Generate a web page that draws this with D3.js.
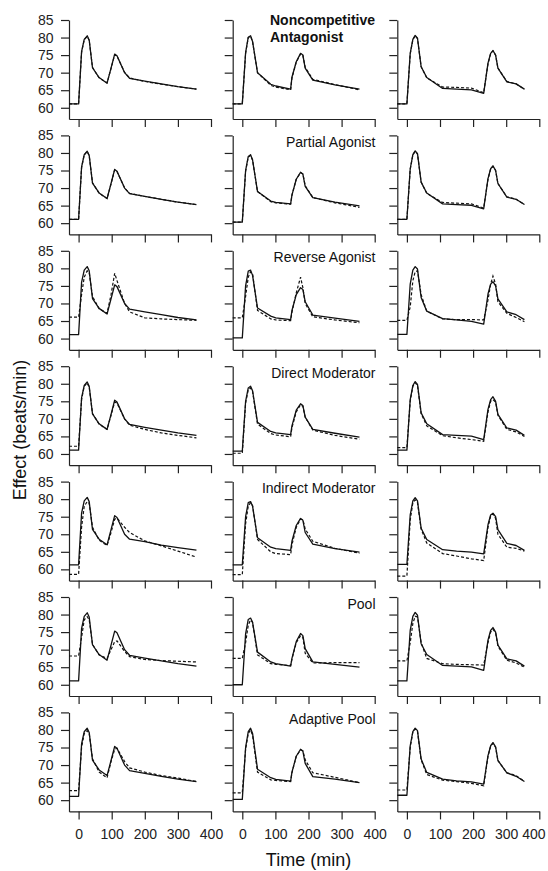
<!DOCTYPE html>
<html>
<head>
<meta charset="utf-8">
<script src="https://cdnjs.cloudflare.com/ajax/libs/d3/7.8.5/d3.min.js"></script>
<style>
  body { margin: 0; background: #fff; }
  svg { display: block; font-family: "Liberation Sans", Arial, sans-serif; }
  .axis path, .axis line { stroke: #222; stroke-width: 1.2; }
  .axis text { font-size: 14px; fill: #222; font-family: "Liberation Sans", Arial, sans-serif; }
</style>
</head>
<body>
<svg id="chart"></svg>
<script>
const width = 548;
const height = 871;

const rowLabels = ["Noncompetitive Antagonist", "Partial Agonist", "Reverse Agonist", "Direct Moderator",
  "Indirect Moderator", "Pool", "Adaptive Pool"];
const yTicks = [60, 65, 70, 75, 80, 85];
const xTicks = [0, 100, 200, 300, 400];

// time points, one list per column (second dose given later in each column)
const t1 = [-29, 0, 9, 17, 26, 32, 42, 62, 86, 98, 109, 116, 139, 154, 200, 250, 300, 356];
const t2 = [-29, 0, 10, 18, 25, 31, 46, 86, 101, 146, 150, 163, 176, 183, 190, 213, 280, 354];
const t3 = [-29, 0, 10, 18, 25, 32, 43, 60, 108, 150, 195, 232, 245, 253, 260, 268, 275, 302, 330, 355];

// observed (solid) and model (dashed) effect, one pair per panel
const r1c1_obs = [61.1, 61.1, 76, 79.5, 80.5, 79.3, 71.4, 68.6, 67, 71.3, 75.3, 74.8, 70, 68.4, 67.6, 66.8, 66, 65.3];
const r1c1_fit = [61.1, 61.1, 75.8, 79.4, 80.3, 79.2, 71.5, 68.5, 67.1, 71.2, 75.1, 74.7, 70.1, 68.5, 67.5, 66.7, 66, 65.3];
const r1c2_obs = [61.1, 61.1, 75.7, 80.1, 80.5, 78.9, 70, 66.7, 66.2, 65.3, 68.7, 73.1, 75.5, 75, 71.3, 67.9, 66.5, 65.3];
const r1c2_fit = [61.1, 61.1, 75.5, 80, 80.4, 78.8, 70, 66.4, 65.9, 65.1, 68.5, 73, 75.3, 74.9, 71.5, 68.1, 66.6, 65.1];
const r1c3_obs = [61.1, 61.1, 75.5, 79.5, 80.6, 79.8, 71.7, 68.6, 65.5, 65.3, 65.1, 64.1, 72.7, 75.5, 76.3, 75, 71.3, 67.4, 66.8, 65.3];
const r1c3_fit = [61.1, 61.1, 75.3, 79.4, 80.5, 79.7, 71.7, 68.5, 65.9, 65.8, 65.6, 64.3, 72.5, 75.4, 76.2, 75, 71.3, 67.5, 66.8, 65.3];

const r2c1_obs = [61.1, 61.1, 76, 79.5, 80.5, 79.3, 71.4, 68.6, 67, 71.3, 75.3, 74.8, 70, 68.4, 67.6, 66.8, 66, 65.3];
const r2c1_fit = [61.1, 61.1, 75.8, 79.4, 80.4, 79.2, 71.5, 68.5, 67, 71.2, 75.2, 74.7, 70, 68.5, 67.6, 66.8, 66, 65.3];
const r2c2_obs = [60.3, 60.3, 75, 79, 79.5, 78, 69, 66.3, 65.9, 65.5, 68, 72.5, 74.5, 74, 70.5, 67.3, 66, 64.9];
const r2c2_fit = [60.3, 60.3, 74.8, 78.8, 79.3, 78, 69, 66.1, 65.8, 65.4, 68, 72.5, 74.4, 74, 70.7, 67.3, 65.8, 64.5];
const r2c3_obs = [61.1, 61.1, 75.5, 79.5, 80.6, 79.8, 71.7, 68.6, 65.5, 65.3, 65.1, 64.1, 72.7, 75.5, 76.3, 75, 71.3, 67.4, 66.8, 65.3];
const r2c3_fit = [61.1, 61.1, 75.3, 79.4, 80.5, 79.7, 71.7, 68.5, 65.9, 65.7, 65.5, 64.3, 72.5, 75.4, 76.2, 75, 71.3, 67.5, 66.8, 65.3];

const r3c1_obs = [61.1, 61.1, 76, 79.5, 80.5, 79.3, 71.4, 68.6, 67, 71.3, 75.3, 74.8, 70, 68.4, 67.6, 66.8, 66, 65.3];
const r3c1_fit = [66.1, 66.1, 72.5, 77.5, 79.3, 78.8, 72, 68.5, 67.2, 72.5, 78.6, 76.5, 70, 67.6, 65.9, 65.6, 65.4, 65.2];
const r3c2_obs = [60.2, 60.2, 75, 79.2, 79.5, 78, 68.7, 66.4, 65.9, 65.4, 68, 72.5, 74.5, 74, 70.5, 66.7, 65.8, 64.9];
const r3c2_fit = [65.9, 65.9, 72, 77.5, 79, 78.5, 68, 65.6, 65.3, 65.1, 67.5, 73, 77.5, 74.5, 70, 66.2, 65.3, 64.5];
const r3c3_obs = [61.2, 61.2, 75.5, 79.5, 80.5, 79.8, 71.7, 67.8, 65.7, 65.3, 64.9, 64.1, 72.7, 75.5, 76.2, 75, 71.3, 67.6, 66.8, 65.4];
const r3c3_fit = [65.2, 65.2, 69, 76.5, 79, 79.3, 72.5, 67.8, 65.6, 65.4, 65.4, 65.3, 71, 75.5, 77.8, 75.5, 70.5, 67.2, 66, 64.8];

const r4c1_obs = [61.1, 61.1, 76, 79.5, 80.5, 79.3, 71.4, 68.6, 67, 71.3, 75.3, 74.8, 70, 68.4, 67.6, 66.8, 66, 65.3];
const r4c1_fit = [62.2, 62.2, 75.5, 79.3, 80.2, 79, 71.5, 68.5, 67, 71, 74.8, 74.5, 70, 68.2, 67, 66, 65.3, 64.6];
const r4c2_obs = [60.8, 60.8, 75, 78.8, 79.3, 78, 69, 66.4, 66, 65.5, 68, 72.5, 74.3, 73.8, 70.5, 67, 65.9, 64.8];
const r4c2_fit = [60.2, 60.2, 74.5, 78.3, 78.8, 77.8, 68.5, 65.8, 65.4, 64.9, 67.5, 72, 74, 73.6, 70.5, 66.8, 65.3, 64.2];
const r4c3_obs = [61.1, 61.1, 75.5, 79.5, 80.6, 79.8, 71.7, 68.6, 65.5, 65.3, 65.1, 64.1, 72.7, 75.5, 76.3, 75, 71.3, 67.4, 66.8, 65.3];
const r4c3_fit = [61.8, 61.8, 75, 79.3, 80.3, 79.5, 71.5, 68, 65.2, 64.6, 64.1, 63.6, 72, 75, 75.5, 74.8, 71, 67, 66.3, 65];

const r5c1_obs = [61.3, 61.3, 76, 79.5, 80.5, 79.3, 71.4, 68.6, 67, 71.3, 75.3, 74.8, 70, 68.6, 67.9, 66.9, 66.2, 65.5];
const r5c1_fit = [58.6, 58.6, 72, 78, 79.3, 78.8, 72, 68.3, 66.8, 70.5, 74.3, 74.6, 72, 70.5, 68.1, 66.7, 65.2, 63.5];
const r5c2_obs = [61.3, 61.3, 75, 79, 79.3, 78, 69, 66.3, 65.9, 65.4, 68, 72.5, 74.5, 74, 70.5, 67.2, 65.9, 64.9];
const r5c2_fit = [58.5, 58.5, 73, 78, 79, 78.2, 68.5, 65, 64.5, 64.2, 67, 72, 74.3, 74.2, 71.5, 68, 66, 64.6];
const r5c3_obs = [61.4, 61.4, 75.5, 79.5, 80.4, 79.5, 71.7, 68.5, 65.6, 65.2, 64.9, 64.4, 72.7, 75.5, 76, 75, 71.3, 67.4, 66.8, 65.4];
const r5c3_fit = [58.1, 58.1, 74, 79, 79.8, 79, 71.5, 67.5, 64.5, 63.8, 63, 62.5, 72, 75.2, 75.8, 74.5, 70, 66.3, 66, 65.2];

const r6c1_obs = [61.1, 61.1, 76, 79.5, 80.5, 79.3, 71.4, 68.6, 67, 71.3, 75.3, 74.8, 70, 68.4, 67.6, 66.8, 66, 65.3];
const r6c1_fit = [68.2, 68.2, 73.5, 78.5, 79.4, 78.5, 71.5, 68.5, 67.5, 70, 72.3, 72.5, 69.5, 68, 67.2, 66.9, 66.7, 66.5];
const r6c2_obs = [60, 60, 74.5, 78.6, 79, 77.8, 69.3, 66.5, 66, 65.3, 67.5, 72.3, 74.6, 74, 70.3, 66.5, 65.8, 65];
const r6c2_fit = [67.5, 67.5, 72, 77, 78.5, 77.8, 68.5, 66, 65.8, 65.5, 67.3, 72, 74, 73.5, 69, 66.2, 66.3, 66.3];
const r6c3_obs = [61.1, 61.1, 75.5, 79.5, 80.6, 79.8, 71.7, 68.6, 65.5, 65.3, 65.1, 64.1, 72.7, 75.5, 76.3, 75, 71.3, 67.4, 66.8, 65.3];
const r6c3_fit = [66.8, 66.8, 72, 77.5, 79.5, 79.3, 72, 67.5, 66, 65.8, 65.7, 65.6, 72, 75, 75.8, 74.8, 71, 67, 66.2, 65];

const r7c1_obs = [61.1, 61.1, 76, 79.5, 80.5, 79.3, 71.4, 68.6, 67, 71.3, 75.3, 74.8, 70, 68.4, 67.6, 66.8, 66, 65.3];
const r7c1_fit = [62.7, 62.7, 75, 79, 79.8, 79, 71.8, 68, 66.4, 71, 74.5, 74.8, 71, 69.2, 68, 67, 66.3, 65.3];
const r7c2_obs = [60.2, 60.2, 75, 79.5, 80.5, 79, 68.8, 66.4, 65.9, 65.4, 68, 72.5, 74.5, 74, 70.5, 66.7, 66, 65];
const r7c2_fit = [62.1, 62.1, 74.5, 79, 80, 78.5, 68, 65.8, 65.6, 65.3, 67.8, 72.5, 74.3, 74, 71.5, 67.8, 66.5, 65];
const r7c3_obs = [61.4, 61.4, 75.5, 79.5, 80.5, 79.8, 71.7, 67.9, 66, 65.5, 65.2, 64.6, 72.7, 75.5, 76.4, 75.2, 71.3, 67.8, 66.8, 65.3];
const r7c3_fit = [62.9, 62.9, 75, 79.5, 80.3, 79.5, 71.5, 67.3, 65.7, 65.3, 64.8, 64.1, 72.5, 75.3, 76.2, 75, 71.3, 67.8, 67, 65.3];

const times = [t1, t2, t3];
const panels = [
  [[r1c1_obs, r1c1_fit], [r1c2_obs, r1c2_fit], [r1c3_obs, r1c3_fit]],
  [[r2c1_obs, r2c1_fit], [r2c2_obs, r2c2_fit], [r2c3_obs, r2c3_fit]],
  [[r3c1_obs, r3c1_fit], [r3c2_obs, r3c2_fit], [r3c3_obs, r3c3_fit]],
  [[r4c1_obs, r4c1_fit], [r4c2_obs, r4c2_fit], [r4c3_obs, r4c3_fit]],
  [[r5c1_obs, r5c1_fit], [r5c2_obs, r5c2_fit], [r5c3_obs, r5c3_fit]],
  [[r6c1_obs, r6c1_fit], [r6c2_obs, r6c2_fit], [r6c3_obs, r6c3_fit]],
  [[r7c1_obs, r7c1_fit], [r7c2_obs, r7c2_fit], [r7c3_obs, r7c3_fit]]
];

// layout
const colLeft = [69, 232.7, 397.3];
const rowTop0 = 20, rowStep = 115.4;
const panelW = 142, panelH = 99;

var svg = d3.select("#chart").attr("width", width).attr("height", height);

var xScale = d3.scaleLinear().domain([-29, 400]).range([0, panelW]);
var yScale = d3.scaleLinear().domain([56.8, 85]).range([panelH, 0]);

var line = d3.line()
  .x(d => xScale(d[0]))
  .y(d => yScale(d[1]));

panels.forEach((row, r) => {
  row.forEach((pair, c) => {
    var g = svg.append("g")
      .attr("transform", `translate(${colLeft[c]},${rowTop0 + r * rowStep})`);

    var yAxis = d3.axisLeft(yScale).tickValues(yTicks).tickSizeInner(8).tickSizeOuter(0).tickPadding(7.5);
    if (c > 0) yAxis.tickFormat("");
    g.append("g").attr("class", "axis").call(yAxis);

    var xAxis = d3.axisBottom(xScale).tickValues(xTicks).tickSizeInner(8).tickSizeOuter(0).tickPadding(10);
    if (r < panels.length - 1) xAxis.tickFormat("");
    var xg = g.append("g").attr("class", "axis")
      .attr("transform", `translate(0,${panelH})`)
      .call(xAxis);
    // keep the last label of the right-hand column inside the page
    if (r === panels.length - 1 && c === 2) {
      xg.selectAll(".tick text").filter(d => d === 400).attr("dx", -6);
    }

    var tt = times[c];
    g.append("path")
      .datum(tt.map((t, i) => [t, pair[0][i]]))
      .attr("d", line)
      .attr("fill", "none")
      .attr("stroke", "#111")
      .attr("stroke-width", 1.3)
      .attr("stroke-linejoin", "round");
    g.append("path")
      .datum(tt.map((t, i) => [t, pair[1][i]]))
      .attr("d", line)
      .attr("fill", "none")
      .attr("stroke", "#111")
      .attr("stroke-width", 1.2)
      .attr("stroke-dasharray", "3,2");
  });
});

// panel labels in middle column
rowLabels.forEach((lab, r) => {
  var top = rowTop0 + r * rowStep;
  if (r === 0) {
    var words = lab.split(" ");
    var txt = svg.append("text")
      .attr("font-size", 14).attr("font-weight", "bold").attr("fill", "#111");
    txt.append("tspan").attr("x", 270).attr("y", 24.5).text(words[0]);
    txt.append("tspan").attr("x", 270).attr("y", 41.5).text(words[1]);
  } else {
    svg.append("text")
      .attr("x", 375.5).attr("y", top + 11.5)
      .attr("text-anchor", "end")
      .attr("font-size", 14).attr("fill", "#111")
      .text(lab);
  }
});

// axis titles
svg.append("text")
  .attr("x", colLeft[1] + xScale(200)).attr("y", 866)
  .attr("text-anchor", "middle")
  .attr("font-size", 18).attr("fill", "#111")
  .text("Time (min)");

svg.append("text")
  .attr("transform", "translate(26,430) rotate(-90)")
  .attr("text-anchor", "middle")
  .attr("font-size", 18).attr("fill", "#111")
  .text("Effect (beats/min)");
</script>
</body>
</html>
